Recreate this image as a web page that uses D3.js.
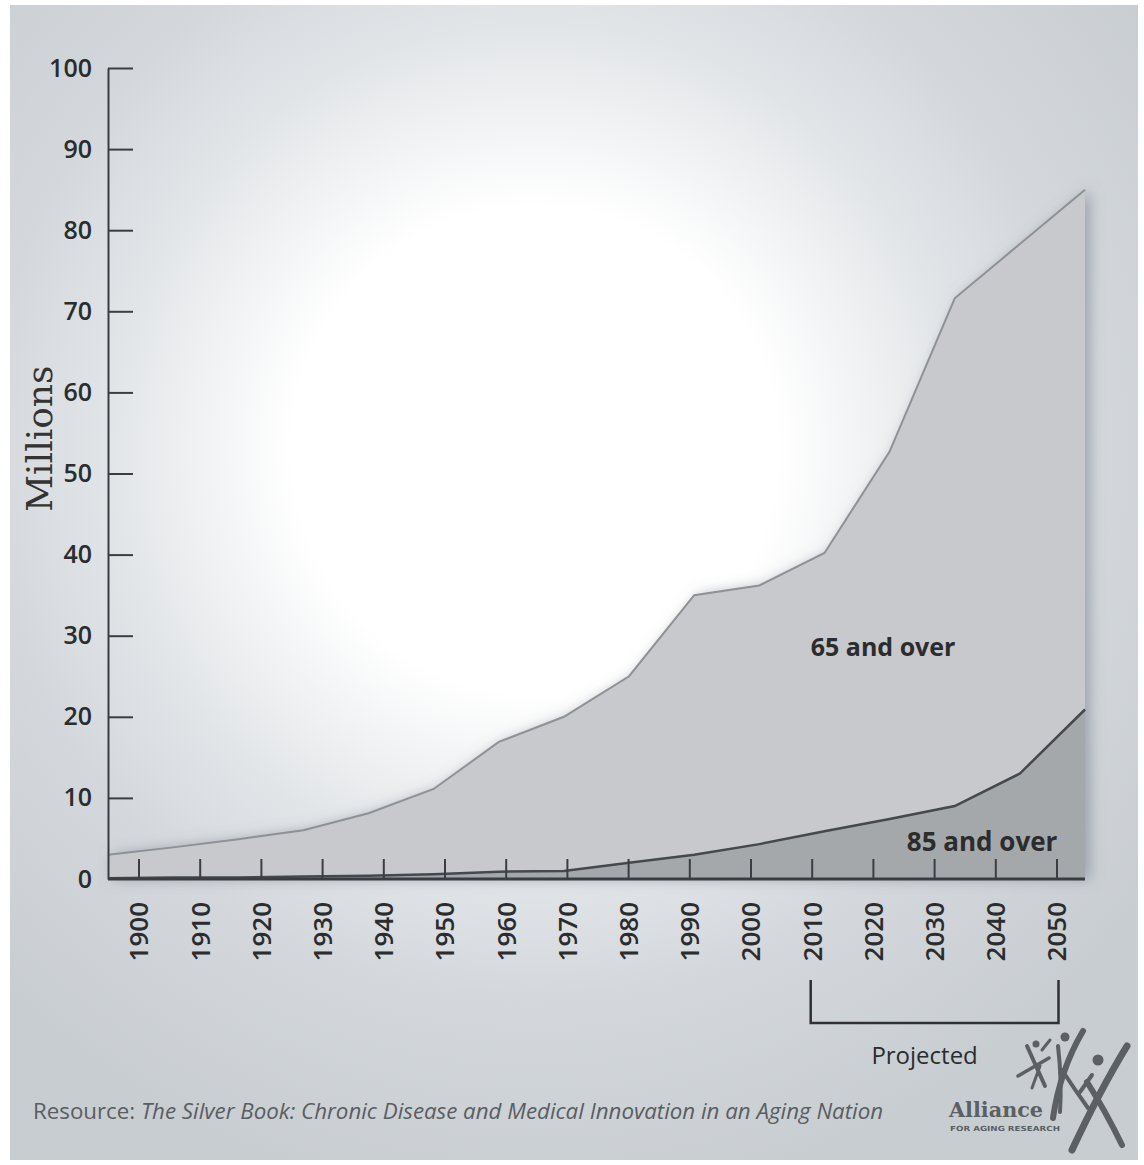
<!DOCTYPE html>
<html>
<head>
<meta charset="utf-8">
<script src="https://cdn.jsdelivr.net/npm/d3@7"></script>
<style>
  body { margin: 0; background: #fff; }
  svg { display: block; }
</style>
</head>
<body>
<script>
// data (millions of people)
const years = [1900, 1910, 1920, 1930, 1940, 1950, 1960, 1970, 1980, 1990, 2000, 2010, 2020, 2030, 2040, 2050];
const over65 = [3.0, 3.9, 4.9, 6.0, 8.1, 11.1, 16.9, 20.0, 25.0, 35.0, 36.2, 40.2, 52.7, 71.6, 78.3, 85.0];
const over85 = [0.1, 0.2, 0.2, 0.3, 0.4, 0.6, 0.9, 1.0, 2.0, 3.0, 4.3, 5.9, 7.4, 9.0, 13.0, 20.9];
const yTicks = [0, 10, 20, 30, 40, 50, 60, 70, 80, 90, 100];
const tickYears = years;

const WIDTH = 1144;
const HEIGHT = 1165;

const svg = d3.select("body").append("svg")
  .attr("width", WIDTH)
  .attr("height", HEIGHT);

const defs = svg.append("defs");

// soft radial background
const bg = defs.append("radialGradient")
  .attr("id", "bgGrad")
  .attr("gradientUnits", "userSpaceOnUse")
  .attr("cx", 535).attr("cy", 450).attr("r", 760);
[[0, "#ffffff"], [0.32, "#ffffff"], [0.56, "#e2e5e8"], [0.72, "#d4d8dc"], [1, "#c8cdd2"]]
  .forEach(([o, c]) => bg.append("stop").attr("offset", o).attr("stop-color", c));

const shadow = defs.append("filter").attr("id", "shadow")
  .attr("x", "-10%").attr("y", "-10%").attr("width", "120%").attr("height", "120%");
shadow.append("feDropShadow")
  .attr("dx", 5).attr("dy", 0).attr("stdDeviation", 7)
  .attr("flood-color", "#6f7a88").attr("flood-opacity", 0.55);

svg.append("rect")
  .attr("x", 10).attr("y", 5)
  .attr("width", 1128).attr("height", 1155)
  .attr("fill", "url(#bgGrad)");

// scales
const x = d3.scaleLinear().domain([1900, 2050]).range([108, 1085]);
const xTick = d3.scalePoint().domain(tickYears).range([138.5, 1056.5]);
const y = d3.scaleLinear().domain([0, 100]).range([879, 68]);

const rows = years.map((yr, i) => ({ year: yr, a: over65[i], b: over85[i] }));

// areas
const areaG = svg.append("g").attr("filter", "url(#shadow)");
areaG.append("path")
  .datum(rows)
  .attr("fill", "#c7c9cc")
  .attr("d", d3.area().x(d => x(d.year)).y0(y(0)).y1(d => y(d.a)));

svg.append("path")
  .datum(rows)
  .attr("fill", "none")
  .attr("stroke", "#8e9195")
  .attr("stroke-width", 2)
  .attr("d", d3.line().x(d => x(d.year)).y(d => y(d.a)));

svg.append("path")
  .datum(rows)
  .attr("fill", "#a5a8ab")
  .attr("d", d3.area().x(d => x(d.year)).y0(y(0)).y1(d => y(d.b)));

svg.append("path")
  .datum(rows)
  .attr("fill", "none")
  .attr("stroke", "#45484c")
  .attr("stroke-width", 2.5)
  .attr("d", d3.line().x(d => x(d.year)).y(d => y(d.b)));

// y axis
const yAxis = svg.append("g")
  .attr("transform", `translate(${x.range()[0]},0)`)
  .call(d3.axisLeft(y).tickValues(yTicks).tickSizeInner(-25).tickSizeOuter(0).tickPadding(16));
yAxis.select(".domain").attr("stroke", "#3a3d41").attr("stroke-width", 2);
yAxis.selectAll(".tick line").attr("stroke", "#3a3d41").attr("stroke-width", 2)
  .filter(d => d === 0).remove();
yAxis.selectAll(".tick text")
  .attr("fill", "#2b2c2e")
  .style("font-family", "'Open Sans', sans-serif")
  .style("font-size", "25px")
  .style("font-weight", 600);

// x axis line
svg.append("line")
  .attr("x1", x.range()[0]).attr("x2", x.range()[1])
  .attr("y1", y(0)).attr("y2", y(0))
  .attr("stroke", "#3a3d41").attr("stroke-width", 3);

const xAxis = svg.append("g")
  .attr("transform", `translate(0,${y(0)})`)
  .call(d3.axisBottom(xTick).tickSizeInner(-20).tickSizeOuter(0));
xAxis.select(".domain").remove();
xAxis.selectAll(".tick line").attr("stroke", "#3a3d41").attr("stroke-width", 2);
xAxis.selectAll(".tick text")
  .attr("transform", "rotate(-90)")
  .attr("x", -23).attr("y", 0).attr("dy", "0.36em")
  .attr("text-anchor", "end")
  .attr("fill", "#2b2c2e")
  .style("font-family", "'Open Sans', sans-serif")
  .style("font-size", "26px")
  .style("font-weight", 600);

// y title
svg.append("text")
  .attr("transform", `translate(52,${y(54.3)}) rotate(-90)`)
  .attr("text-anchor", "middle")
  .attr("fill", "#333")
  .style("font-family", "'DejaVu Serif', serif")
  .style("font-size", "36px")
  .text("Millions");

// series labels
svg.append("text")
  .attr("x", x(2019)).attr("y", y(27.5))
  .attr("text-anchor", "middle")
  .attr("fill", "#2b2c2e")
  .style("font-family", "'Open Sans', sans-serif")
  .style("font-size", "25px").style("font-weight", 700)
  .text("65 and over");

svg.append("text")
  .attr("x", x(2034.2)).attr("y", y(3.5))
  .attr("text-anchor", "middle")
  .attr("fill", "#2b2c2e")
  .style("font-family", "'Open Sans', sans-serif")
  .style("font-size", "26px").style("font-weight", 700)
  .text("85 and over");

// projected bracket
const bx0 = xTick(2010) - 1, bx1 = xTick(2050) + 2;
svg.append("path")
  .attr("d", `M${bx0},980V1023H${bx1}V980`)
  .attr("fill", "none")
  .attr("stroke", "#2f3134")
  .attr("stroke-width", 2.5);

svg.append("text")
  .attr("x", (bx0 + bx1) / 2 - 10).attr("y", 1064)
  .attr("text-anchor", "middle")
  .attr("fill", "#2b2c2e")
  .style("font-family", "'Open Sans', sans-serif")
  .style("font-size", "24px")
  .text("Projected");

// source
const src = svg.append("text")
  .attr("x", 33).attr("y", 1119)
  .attr("fill", "#5a5d61")
  .style("font-family", "'Open Sans', sans-serif")
  .style("font-size", "22.3px");
src.append("tspan").text("Resource: ");
src.append("tspan").style("font-style", "italic")
  .text("The Silver Book: Chronic Disease and Medical Innovation in an Aging Nation");

// logo
const logo = svg.append("g").attr("fill", "#5c5f63").attr("stroke", "#5c5f63")
  .attr("stroke-linecap", "round");
logo.append("text")
  .attr("x", 949).attr("y", 1117)
  .attr("stroke", "none")
  .style("font-family", "'DejaVu Serif', serif")
  .style("font-size", "21px").style("font-weight", 700)
  .attr("textLength", 94).attr("lengthAdjust", "spacingAndGlyphs")
  .text("Alliance");
logo.append("text")
  .attr("x", 950).attr("y", 1131)
  .attr("stroke", "none")
  .style("font-family", "'DejaVu Sans', sans-serif")
  .style("font-size", "7px").style("font-weight", 700)
  .attr("textLength", 110).attr("lengthAdjust", "spacingAndGlyphs")
  .text("FOR AGING RESEARCH");
const strokes = [
  // big figure
  ["M1127,1046 Q1100,1090 1072,1150", 7],
  ["M1087,1082 Q1105,1110 1122,1145", 6],
  ["M1092,1075 L1080,1092", 4],
  // middle figure
  ["M1083,1031 Q1060,1070 1053,1118", 6],
  ["M1058,1046 Q1062,1080 1060,1112", 4],
  ["M1062,1070 Q1075,1090 1088,1108", 4],
  // small figure
  ["M1027,1046 L1045,1086", 4],
  ["M1018,1076 L1049,1058", 3.5],
  ["M1032,1088 L1040,1066", 3],
  ["M1042,1050 L1050,1040", 3]
];
strokes.forEach(([d, w]) => logo.append("path").attr("d", d).attr("fill", "none").attr("stroke-width", w));
[[1098, 1060, 5.5], [1065, 1037, 4.5], [1036, 1044, 3.5]].forEach(([cx, cy, r]) =>
  logo.append("circle").attr("cx", cx).attr("cy", cy).attr("r", r).attr("stroke", "none"));
</script>
</body>
</html>
